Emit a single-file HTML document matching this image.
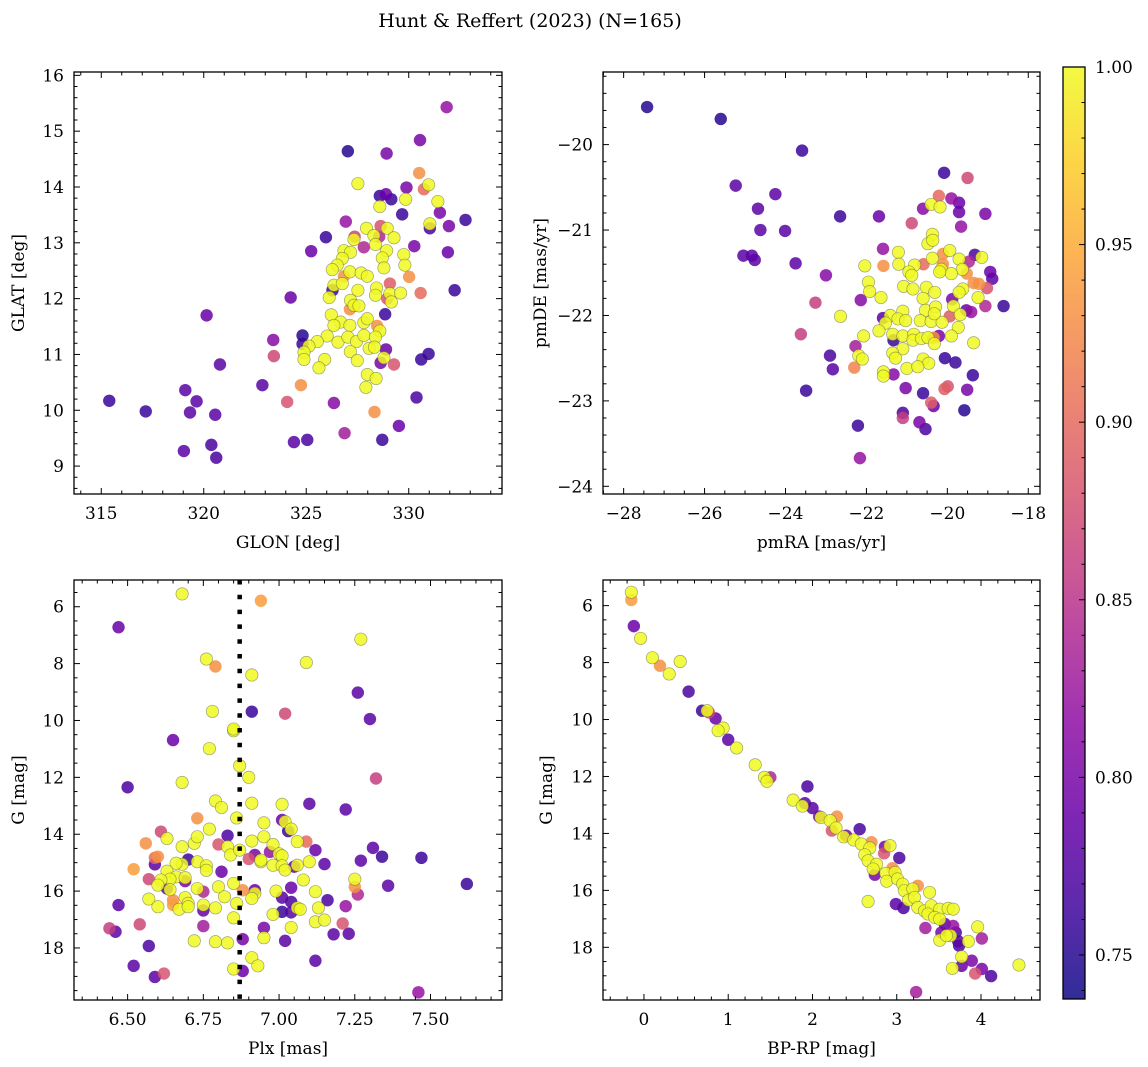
<!DOCTYPE html>
<html><head><meta charset="utf-8">
<style>
html,body{margin:0;padding:0;background:#fff;}
svg{display:block;font-family:"DejaVu Serif","Liberation Serif",serif;}
</style></head>
<body>
<svg id="fig" width="1148" height="1067" viewBox="0 0 1148 1067" xmlns="http://www.w3.org/2000/svg">
<text x="530" y="27" text-anchor="middle" font-size="19">Hunt &amp; Reffert (2023) (N=165)</text>
</svg>
<script>
// Panel 1: GLON vs GLAT
const p1Glon=[331.85,330.55,327.03,328.92,330.51,327.52,329.89,330.74,330.97,328.59,328.89,329.15,329.85,328.59,331.42,329.68,331.52,332.77,326.93,331.03,331.03,331.96,328.63,327.94,328.95,325.96,327.36,327.33,328.30,328.56,329.28,327.81,328.38,330.27,325.24,331.91,326.84,327.16,328.92,328.71,329.76,326.76,326.51,326.27,328.79,329.81,327.13,327.68,327.98,326.84,330.02,329.08,326.35,326.76,328.43,327.52,330.58,332.24,324.24,326.28,326.12,328.38,329.08,329.60,328.95,329.15,327.16,327.33,327.57,327.13,320.14,328.85,326.22,326.68,326.35,327.13,327.81,327.98,328.46,328.59,324.82,324.82,323.39,326.02,326.55,327.03,327.45,327.81,328.38,325.54,325.13,324.89,324.89,328.07,328.33,327.15,323.42,328.89,328.63,328.79,329.28,330.61,330.97,325.90,325.62,327.49,320.79,327.98,328.41,327.91,322.86,324.74,319.10,319.65,315.39,317.17,319.33,320.56,324.07,326.35,330.38,328.33,329.52,326.87,324.40,325.05,328.71,320.37,319.03,320.61];
const p1Glat=[15.43,14.84,14.64,14.60,14.25,14.06,13.99,13.96,14.04,13.84,13.87,13.78,13.78,13.65,13.74,13.51,13.54,13.41,13.38,13.34,13.26,13.30,13.30,13.26,13.26,13.10,13.11,13.06,13.13,13.11,13.09,12.92,12.97,12.94,12.85,12.83,12.86,12.83,12.86,12.73,12.79,12.72,12.60,12.52,12.55,12.60,12.48,12.46,12.40,12.40,12.39,12.27,12.24,12.27,12.19,12.15,12.10,12.15,12.02,12.15,12.02,12.06,12.09,12.10,12.00,11.94,11.97,11.88,11.87,11.81,11.70,11.72,11.71,11.58,11.52,11.52,11.57,11.64,11.51,11.42,11.34,11.19,11.26,11.33,11.22,11.31,11.23,11.34,11.31,11.23,11.15,11.04,10.91,11.11,11.13,11.05,10.97,11.09,10.85,10.94,10.82,10.91,11.01,10.91,10.76,10.89,10.82,10.64,10.57,10.41,10.45,10.45,10.36,10.16,10.17,9.98,9.96,9.92,10.15,10.13,10.23,9.97,9.72,9.59,9.43,9.47,9.47,9.38,9.27,9.15];
const p1Prob=[.82,.80,.75,.80,.93,1,.80,.90,1,.76,.79,.76,1,1,1,.76,.80,.76,.82,1,.77,.80,.88,1,1,.76,.87,1,1,.84,1,.84,1,.80,.79,.79,1,1,1,1,1,1,1,1,1,1,1,1,1,.93,.93,.89,1,1,1,1,.90,.76,.79,.76,1,1,1,1,.88,1,1,1,1,.93,.79,.76,1,1,1,1,1,1,.93,1,.75,.76,.81,1,1,1,1,1,1,1,1,1,1,1,1,1,.87,.79,.80,1,.88,.76,.76,1,1,1,.78,1,1,1,.78,.93,.78,.78,.76,.76,.78,.78,.88,.81,.77,.93,.79,.83,.78,.77,.76,.77,.78,.77];
// Panel 2: pmRA vs pmDE
const p2PmRA=[-27.42,-25.60,-23.59,-25.23,-24.25,-24.68,-22.65,-21.69,-24.62,-24.01,-25.04,-24.83,-24.76,-23.75,-23.00,-23.26,-23.62,-23.49,-22.21,-22.16,-20.08,-19.50,-20.21,-19.90,-19.71,-20.40,-20.18,-20.60,-19.71,-19.06,-20.88,-19.66,-20.37,-20.48,-20.36,-21.59,-21.21,-19.94,-20.11,-19.32,-19.15,-19.71,-22.04,-21.58,-21.20,-20.81,-20.59,-20.37,-20.11,-19.47,-20.15,-19.63,-20.95,-20.88,-19.90,-20.19,-18.94,-18.89,-19.52,-19.35,-19.22,-19.02,-21.95,-21.92,-21.64,-21.08,-20.85,-20.52,-20.31,-20.60,-19.62,-19.71,-19.24,-22.14,-19.06,-18.61,-19.88,-19.85,-20.54,-20.29,-19.94,-19.53,-19.41,-19.68,-22.64,-21.59,-21.41,-21.10,-21.22,-21.03,-21.53,-21.69,-20.67,-20.40,-20.13,-20.32,-19.73,-22.07,-21.33,-21.35,-21.10,-20.83,-20.85,-20.64,-20.48,-20.21,-20.34,-20.32,-19.90,-19.35,-22.27,-21.10,-21.35,-21.28,-22.90,-22.19,-22.10,-20.60,-20.46,-20.06,-19.80,-22.83,-22.30,-21.00,-20.73,-21.58,-21.58,-21.33,-19.37,-21.03,-20.07,-19.99,-19.51,-20.60,-20.40,-20.34,-19.58,-21.10,-21.10,-20.69,-20.54];
const p2PmDE=[-19.56,-19.70,-20.07,-20.48,-20.58,-20.75,-20.84,-20.84,-21.00,-21.01,-21.30,-21.30,-21.35,-21.39,-21.53,-21.85,-22.22,-22.88,-23.29,-23.67,-20.33,-20.39,-20.60,-20.63,-20.68,-20.70,-20.73,-20.75,-20.79,-20.81,-20.92,-20.96,-21.05,-21.16,-21.12,-21.22,-21.26,-21.24,-21.28,-21.29,-21.32,-21.34,-21.42,-21.42,-21.40,-21.41,-21.40,-21.33,-21.40,-21.37,-21.46,-21.46,-21.49,-21.53,-21.51,-21.49,-21.49,-21.57,-21.51,-21.62,-21.63,-21.68,-21.61,-21.72,-21.79,-21.66,-21.69,-21.67,-21.73,-21.80,-21.69,-21.73,-21.79,-21.82,-21.89,-21.89,-21.81,-21.89,-21.94,-21.90,-22.01,-21.94,-21.96,-21.99,-22.01,-22.03,-22.00,-21.95,-22.04,-22.06,-22.09,-22.18,-22.06,-22.07,-22.08,-21.98,-22.14,-22.24,-22.29,-22.22,-22.24,-22.22,-22.29,-22.27,-22.26,-22.24,-22.26,-22.33,-22.24,-22.32,-22.36,-22.39,-22.44,-22.50,-22.47,-22.47,-22.51,-22.51,-22.56,-22.50,-22.55,-22.63,-22.61,-22.62,-22.60,-22.66,-22.71,-22.69,-22.70,-22.85,-22.86,-22.83,-22.87,-22.91,-23.02,-23.06,-23.11,-23.14,-23.20,-23.25,-23.33];
const p2Prob=[.75,.75,.76,.78,.78,.78,.76,.79,.78,.78,.78,.78,.78,.78,.81,.86,.86,.76,.76,.82,.76,.87,.90,.82,.79,1,1,.81,.79,.80,.87,.82,1,1,1,.82,1,1,.93,.77,1,1,1,.93,1,1,.90,1,.93,.84,1,1,1,1,1,1,.79,.78,.93,.93,.93,.88,1,1,1,1,1,1,1,1,1,1,1,.81,.84,.76,.80,1,1,1,.89,.79,.82,1,1,.78,1,1,1,1,1,1,1,1,1,1,1,1,.76,1,1,1,1,1,1,.80,.93,1,1,1,.83,1,1,1,.77,1,1,1,1,.76,.76,.78,.92,1,1,1,1,.81,.76,.80,.89,.88,.80,.76,.89,.79,.75,.77,.86,.80,.77];
// Panel 3: Plx vs G
const p3Plx=[6.68,6.94,6.47,7.27,6.76,6.79,7.09,6.91,7.26,6.91,7.02,6.78,7.30,6.85,6.85,6.65,6.77,6.87,6.90,7.32,6.68,6.50,6.79,6.81,6.91,7.10,7.01,7.22,6.73,6.86,7.01,7.02,6.95,7.04,7.03,6.77,6.61,6.83,6.95,6.56,6.63,6.68,6.72,6.73,6.80,6.83,6.84,6.87,6.91,6.98,7.06,7.09,7.12,6.97,7.00,7.01,6.59,6.60,6.70,6.73,6.68,6.66,6.92,6.90,6.94,6.94,7.10,7.05,7.06,6.98,7.01,7.02,6.52,6.59,6.76,6.76,6.63,6.66,6.64,6.69,6.69,6.81,7.15,6.57,6.61,6.60,6.85,6.80,6.73,6.63,6.64,6.75,6.88,6.92,6.92,6.99,7.04,7.08,7.12,7.25,7.25,7.26,6.82,6.91,7.01,7.16,6.57,6.60,6.65,6.65,6.67,6.69,6.70,6.70,6.75,6.75,6.79,6.86,6.47,7.04,7.04,7.01,7.06,7.07,7.13,7.22,6.98,6.85,7.12,7.15,6.54,6.75,6.44,6.46,6.95,7.04,7.21,7.18,7.23,6.57,6.95,6.72,6.79,6.83,6.88,7.02,7.12,6.91,6.93,6.52,6.59,6.62,6.85,6.88,7.46,7.34,7.47,7.31,7.27,7.36,7.62];
const p3G=[5.55,5.79,6.72,7.14,7.84,8.10,7.96,8.40,9.02,9.69,9.76,9.68,9.95,10.36,10.30,10.69,10.99,11.59,12.00,12.04,12.18,12.35,12.83,13.06,12.91,12.93,12.95,13.13,13.44,13.43,13.50,13.56,13.60,13.82,13.89,13.82,13.91,14.05,14.09,14.32,14.15,14.44,14.32,14.09,14.36,14.44,14.73,14.56,14.24,14.36,14.26,14.26,14.56,14.62,14.69,14.76,14.83,14.79,14.89,14.97,15.06,15.02,14.73,14.87,14.97,14.91,14.97,15.14,15.09,15.09,15.11,15.26,15.23,15.06,15.11,15.27,15.30,15.50,15.58,15.53,15.65,15.32,15.05,15.58,15.61,15.79,15.73,15.85,15.91,15.91,15.95,16.02,15.97,15.97,16.08,16.00,15.88,15.61,16.02,15.58,15.85,16.12,16.20,16.26,16.23,16.32,16.28,16.55,16.32,16.49,16.64,16.23,16.43,16.55,16.49,16.68,16.59,16.43,16.49,16.38,16.75,16.73,16.59,16.64,16.59,16.53,16.82,16.94,17.08,17.02,17.17,17.23,17.31,17.43,17.29,17.28,17.14,17.52,17.50,17.93,17.64,17.75,17.78,17.82,17.69,17.75,18.45,18.34,18.63,18.63,19.02,18.90,18.74,18.81,19.56,14.79,14.83,14.48,14.93,15.81,15.75];
const p3Prob=[1,.94,.79,1,1,.93,1,1,.78,.76,.87,1,.78,1,1,.79,1,1,1,.86,1,.77,1,1,1,.78,1,.78,.93,1,.79,1,1,1,.76,1,.87,.77,1,.93,1,1,1,1,.88,1,1,1,1,1,1,.90,.79,.82,1,1,.90,.93,.76,1,1,1,.80,.88,1,1,1,.79,1,1,1,1,.94,.78,1,1,1,1,1,1,.80,.79,.78,.87,1,1,1,1,1,.78,1,.84,.93,.79,1,1,.79,1,1,1,.93,.84,1,1,.78,.77,1,1,.93,.94,1,1,1,1,1,.79,1,1,.78,.77,.78,.76,1,1,1,.82,1,1,1,1,.87,.83,.86,.78,.80,1,.88,.78,.78,.77,1,1,1,1,.80,.78,.78,1,1,.78,.78,.88,1,.79,.82,.76,.76,.78,.78,.78,.76];
const plxCut=6.87;
// Panel 4: BP-RP vs G
const p4BpRp=[-0.15,-0.15,-0.12,-0.04,0.10,0.19,0.30,0.43,0.53,0.69,0.77,0.85,0.75,0.94,0.88,1.00,1.10,1.32,1.50,1.43,1.46,1.94,1.77,1.88,1.91,2.00,2.08,2.10,2.29,2.21,2.23,2.28,2.56,2.37,2.40,2.49,2.58,2.70,2.68,2.86,2.92,2.85,3.03,2.62,2.66,2.76,2.72,2.95,2.74,2.87,2.98,2.88,3.01,3.07,3.25,3.09,3.19,3.39,2.66,2.99,3.08,3.14,3.21,3.25,3.33,3.41,3.51,3.61,3.67,3.37,3.45,3.51,3.34,3.57,3.67,3.53,3.70,3.64,3.51,3.73,3.74,3.85,3.96,4.01,3.77,3.77,3.89,3.66,4.01,3.93,4.12,4.45,3.23,3.59];
const p4G=[5.53,5.80,6.72,7.15,7.83,8.11,8.40,7.96,9.02,9.69,9.75,9.96,9.69,10.30,10.39,10.71,11.00,11.59,12.03,12.03,12.17,12.35,12.83,13.04,12.94,13.11,13.41,13.44,13.41,13.55,13.90,13.81,13.85,14.12,14.08,14.23,14.37,14.31,14.51,14.47,14.43,14.70,14.86,14.75,14.96,15.08,15.25,15.22,15.45,15.40,15.37,15.68,15.60,15.78,15.84,16.01,15.95,16.07,16.39,16.48,16.62,16.34,16.25,16.60,16.72,16.54,16.66,16.63,16.66,16.83,16.95,17.01,17.32,17.18,17.25,17.48,17.48,17.59,17.75,17.79,17.94,17.79,17.28,17.69,18.33,18.65,18.47,18.74,18.76,18.92,19.01,18.62,19.57,17.59];
const p4Prob=[1,.94,.79,1,1,.93,1,1,.77,.76,.87,.79,1,1,1,.78,1,1,.84,1,1,.77,1,1,.78,.78,.80,1,.93,1,.88,1,.77,1,.80,1,1,.93,1,.80,1,.88,.77,1,1,1,1,.93,.80,1,1,1,1,1,.93,1,1,1,1,.78,.77,1,1,1,1,1,1,1,1,1,1,1,.83,.78,.82,.80,.77,1,1,.78,.77,1,1,.83,1,.79,.80,1,.80,.88,.77,1,.83,1];
// Colorbar
const cbMin=0.7376, cbMax=1.0;
const cbTicks=[0.75,0.80,0.85,0.90,0.95,1.00];

const NS="http://www.w3.org/2000/svg";
const svg=document.getElementById('fig');
function mk(tag,attrs,parent){const e=document.createElementNS(NS,tag);for(const k in attrs)e.setAttribute(k,attrs[k]);(parent||svg).appendChild(e);return e;}
const plasmaStops=[[13,8,135],[65,4,157],[106,0,168],[143,13,164],[177,42,144],[204,71,120],[225,100,98],[242,132,75],[252,166,54],[252,206,37],[240,249,33]];
function plasma(t){t=Math.max(0,Math.min(1,t));const f=t*10,i=Math.min(9,Math.floor(f)),r=f-i;const a=plasmaStops[i],b=plasmaStops[i+1];return 'rgb('+a.map((v,k)=>Math.round(v+(b[k]-v)*r)).join(',')+')';}
function colorOf(p){return plasma((p-cbMin)/(cbMax-cbMin));}
function fmtNum(v,dec){const s=Math.abs(v).toFixed(dec);return (v<-1e-9?'\u2212':'')+s;}

function panel(cfg){
  const g=mk('g',{});
  
  
  const sx=v=>cfg.L+(v-cfg.xl)/(cfg.xr-cfg.xl)*(cfg.R-cfg.L);
  const sy=v=>cfg.T+(v-cfg.yt)/(cfg.yb-cfg.yt)*(cfg.B-cfg.T);
  cfg.sx=sx;cfg.sy=sy;
  // points
  const n=Math.min(cfg.xs.length,cfg.ys.length,cfg.ps.length);
  const idx=[...Array(n).keys()].sort((a,b)=>cfg.ps[a]-cfg.ps[b]);
  const pg=mk('g',{},g);
  
  
  for(const i of idx){
    const c=mk('circle',{cx:sx(cfg.xs[i]).toFixed(2),cy:sy(cfg.ys[i]).toFixed(2),r:6.2,fill:colorOf(cfg.ps[i]),'fill-opacity':0.85,stroke:cfg.ps[i]>0.97?'rgba(90,90,60,0.55)':'none','stroke-width':0.7},pg);
    
    
  }
  if(cfg.extra)cfg.extra(g,sx,sy);
  // ticks
  const tg=mk('g',{stroke:'#000','stroke-width':1},g);
  
  
  const eps=1e-6;
  const xlo=Math.min(cfg.xl,cfg.xr),xhi=Math.max(cfg.xl,cfg.xr);
  for(let v=Math.ceil(xlo/cfg.xminor-eps)*cfg.xminor;v<=xhi+eps;v+=cfg.xminor){
    const isMaj=cfg.xmaj.some(m=>Math.abs(m-v)<cfg.xminor/10);const L=isMaj?6:3.5;const x=sx(v);
    mk('line',{x1:x,x2:x,y1:cfg.B,y2:cfg.B-L},tg);mk('line',{x1:x,x2:x,y1:cfg.T,y2:cfg.T+L},tg);
  }
  const ylo=Math.min(cfg.yt,cfg.yb),yhi=Math.max(cfg.yt,cfg.yb);
  for(let v=Math.ceil(ylo/cfg.yminor-eps)*cfg.yminor;v<=yhi+eps;v+=cfg.yminor){
    const isMaj=cfg.ymaj.some(m=>Math.abs(m-v)<cfg.yminor/10);const L=isMaj?6:3.5;const y=sy(v);
    mk('line',{x1:cfg.L,x2:cfg.L+L,y1:y,y2:y},tg);mk('line',{x1:cfg.R,x2:cfg.R-L,y1:y,y2:y},tg);
  }
  const fr=mk('rect',{x:cfg.L,y:cfg.T,width:cfg.R-cfg.L,height:cfg.B-cfg.T,fill:'none',stroke:'#000','stroke-width':1.3},g);
  
  
  // tick labels
  cfg.xmaj.forEach(v=>{const t=mk('text',{x:sx(v),y:cfg.B+25,'text-anchor':'middle','font-size':17},g);t.textContent=fmtNum(v,cfg.xdec);
    
    });
  cfg.ymaj.forEach(v=>{const t=mk('text',{x:cfg.L-10,y:sy(v)+6,'text-anchor':'end','font-size':17},g);t.textContent=fmtNum(v,cfg.ydec);
    
    });
  const xt=mk('text',{x:(cfg.L+cfg.R)/2,y:cfg.B+54,'text-anchor':'middle','font-size':17},g);xt.textContent=cfg.xlabel;
  
  
  const cy=(cfg.T+cfg.B)/2;
  const yt=mk('text',{x:cfg.ylx,y:cy,'text-anchor':'middle','font-size':17,transform:'rotate(-90 '+cfg.ylx+' '+cy+')'},g);yt.textContent=cfg.ylabel;
  
  
}
function range(a,b,s){const r=[];for(let v=a;v<=b+1e-9;v+=s)r.push(Math.round(v*1000)/1000);return r;}

panel({name:'glon-glat-panel',L:74,R:502,T:72,B:494,xl:313.67,xr:334.55,yt:16.06,yb:8.50,
  xs:p1Glon,ys:p1Glat,ps:p1Prob,xmaj:[315,320,325,330],xminor:1,ymaj:range(9,16,1),yminor:0.2,xdec:0,ydec:0,
  xlabel:'GLON [deg]',ylabel:'GLAT [deg]',ylx:24});
panel({name:'pm-panel',L:603,R:1040,T:72,B:494,xl:-28.51,xr:-17.71,yt:-19.15,yb:-24.09,
  xs:p2PmRA,ys:p2PmDE,ps:p2Prob,xmaj:range(-28,-18,2),xminor:0.5,ymaj:[-20,-21,-22,-23,-24],yminor:0.2,xdec:0,ydec:0,
  xlabel:'pmRA [mas/yr]',ylabel:'pmDE [mas/yr]',ylx:546});
panel({name:'plx-g-panel',L:74,R:502,T:580,B:1000,xl:6.323,xr:7.736,yt:5.06,yb:19.83,
  xs:p3Plx,ys:p3G,ps:p3Prob,xmaj:range(6.5,7.5,0.25),xminor:0.05,ymaj:range(6,18,2),yminor:0.5,xdec:2,ydec:0,
  xlabel:'Plx [mas]',ylabel:'G [mag]',ylx:24,
  extra:(g,sx,sy)=>{const x=sx(plxCut);const l=mk('line',{x1:x,x2:x,y1:580,y2:1000,stroke:'#000','stroke-width':4.5,'stroke-dasharray':'4.5 10.3'},g);
    
    }});
panel({name:'cmd-panel',L:603,R:1040,T:580,B:1000,xl:-0.486,xr:4.70,yt:5.10,yb:19.85,
  xs:p4BpRp,ys:p4G,ps:p4Prob,xmaj:[0,1,2,3,4],xminor:0.2,ymaj:range(6,18,2),yminor:0.5,xdec:0,ydec:0,
  xlabel:'BP-RP [mag]',ylabel:'G [mag]',ylx:552});

// colorbar
(function(){
  const L=1063,R=1085,T=67,B=999;
  const cb=mk('g',{});
  
  
  const defs=mk('defs',{},cb);
  const lg=mk('linearGradient',{id:'cbg',x1:0,y1:1,x2:0,y2:0},defs);
  for(let k=0;k<=20;k++){mk('stop',{offset:k/20,'stop-color':plasma(k/20),'stop-opacity':0.85},lg);}
  mk('rect',{x:L,y:T,width:R-L,height:B-T,fill:'url(#cbg)'},cb);
  const sy=v=>B-(v-cbMin)/(cbMax-cbMin)*(B-T);
  for(let v=0.74;v<=1.0001;v+=0.01){const maj=cbTicks.some(m=>Math.abs(m-v)<0.001);const y=sy(v);
    mk('line',{x1:R,x2:R-(maj?6:3.5),y1:y,y2:y,stroke:'#000','stroke-width':1},cb);}
  cbTicks.forEach(v=>{const t=mk('text',{x:R+10,y:sy(v)+6,'font-size':17},cb);t.textContent=v.toFixed(2);
    
    });
  mk('rect',{x:L,y:T,width:R-L,height:B-T,fill:'none',stroke:'#000','stroke-width':1.3},cb);
})();
</script>
</body></html>
